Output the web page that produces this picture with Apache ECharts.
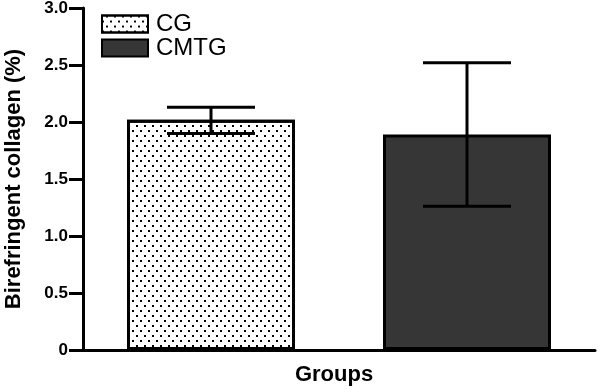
<!DOCTYPE html>
<html>
<head>
<meta charset="utf-8">
<script src="https://cdn.jsdelivr.net/npm/echarts@6/dist/echarts.min.js"></script>
<style>
  html, body { margin: 0; padding: 0; background: #fff; }
  #chart { width: 600px; height: 390px; }
</style>
</head>
<body>
<div id="chart"></div>
<script>
  // groups and values (mean with error bar ends)
  var groups = ['CG', 'CMTG'];
  var means = [2.02, 1.89];
  var errLow = [1.90, 1.26];
  var errHigh = [2.13, 2.52];
  var yTicks = [0, 0.5, 1.0, 1.5, 2.0, 2.5, 3.0];

  var font = '"Liberation Sans", Arial, sans-serif';
  var chart = echarts.init(document.getElementById('chart'));

  var errData = groups.map(function (g, i) {
    return [i, errLow[i], errHigh[i]];
  });

  var option = {
    animation: false,
    backgroundColor: '#fff',
    grid: { left: 83, right: 5, top: 8, bottom: 40, containLabel: false, outerBoundsMode: 'none' },
    legend: {
      orient: 'vertical',
      left: 101,
      top: 12,
      padding: 0,
      itemWidth: 46,
      itemHeight: 17,
      itemGap: 0,
      icon: 'rect',
      data: groups,
      textStyle: { fontFamily: font, fontSize: 24, lineHeight: 24, color: '#000', padding: [0, 0, 0, 3] }
    },
    xAxis: {
      type: 'category',
      data: groups,
      name: 'Groups',
      nameLocation: 'middle',
      nameGap: 14,
      nameTextStyle: { fontFamily: font, fontSize: 22, fontWeight: 'bold', color: '#000', padding: [0, 10, 0, 0] },
      axisLine: { lineStyle: { color: '#000', width: 3 } },
      axisTick: { show: false },
      axisLabel: { show: false },
      splitLine: { show: false }
    },
    yAxis: {
      type: 'value',
      min: yTicks[0],
      max: yTicks[yTicks.length - 1],
      interval: 0.5,
      name: 'Birefringent collagen (%)',
      nameLocation: 'middle',
      nameGap: 58,
      nameTextStyle: { fontFamily: font, fontSize: 22, fontWeight: 'bold', color: '#000' },
      axisLine: { show: true, lineStyle: { color: '#000', width: 3 } },
      axisTick: { show: true, length: 14, lineStyle: { color: '#000', width: 3 } },
      axisLabel: {
        margin: 15,
        fontFamily: font,
        fontSize: 17,
        fontWeight: 'bold',
        color: '#000',
        formatter: function (v) { return v === 0 ? '0' : v.toFixed(1); }
      },
      splitLine: { show: false }
    },
    series: [
      {
        name: 'CG',
        type: 'bar',
        barWidth: 168,
        barGap: '-100%',
        data: [means[0], '-'],
        itemStyle: {
          color: '#fff',
          borderColor: '#000',
          borderWidth: 3,
          decal: {
            symbol: 'rect',
            symbolSize: 1,
            color: '#000',
            dashArrayX: [[1.6, 5.4], [0, 3.5, 1.6, 1.9]],
            dashArrayY: [1.6, 2.1]
          }
        }
      },
      {
        name: 'CMTG',
        type: 'bar',
        barWidth: 168,
        barGap: '-100%',
        data: ['-', means[1]],
        itemStyle: { color: '#363636', borderColor: '#000', borderWidth: 3 }
      },
      {
        name: 'error',
        type: 'custom',
        z: 10,
        data: errData,
        renderItem: function (params, api) {
          var x = api.value(0);
          var lo = api.coord([x, api.value(1)]);
          var hi = api.coord([x, api.value(2)]);
          var half = 44;
          var st = { stroke: '#000', lineWidth: 3 };
          return {
            type: 'group',
            children: [
              { type: 'line', shape: { x1: lo[0], y1: lo[1], x2: hi[0], y2: hi[1] }, style: st },
              { type: 'line', shape: { x1: hi[0] - half, y1: hi[1], x2: hi[0] + half, y2: hi[1] }, style: st },
              { type: 'line', shape: { x1: lo[0] - half, y1: lo[1], x2: lo[0] + half, y2: lo[1] }, style: st }
            ]
          };
        }
      }
    ]
  };
  chart.setOption(option);
</script>
</body>
</html>
